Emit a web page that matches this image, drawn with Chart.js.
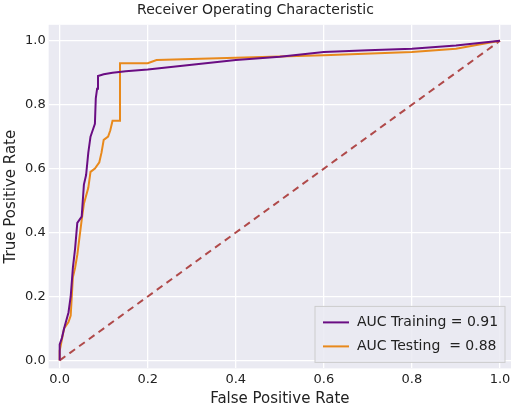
<!DOCTYPE html><html><head><script src="https://cdn.jsdelivr.net/npm/chart.js@4"></script>
<style>body{margin:0;background:#fff}#w{width:520px;height:408px}</style></head><body><div id="w"><canvas id="c"></canvas></div>
<script>
const trainFPR=[0,0,0.005,0.01,0.02,0.025,0.03,0.035,0.04,0.05,0.055,0.06,0.065,0.07,0.075,0.08,0.082,0.085,0.087,0.1,0.12,0.15,0.2,0.3,0.4,0.5,0.6,0.7,0.8,0.9,1];
const trainTPR=[0,0.05,0.07,0.1,0.15,0.2,0.29,0.35,0.43,0.45,0.55,0.58,0.65,0.7,0.72,0.74,0.82,0.85,0.89,0.895,0.9,0.905,0.91,0.925,0.94,0.95,0.965,0.97,0.975,0.985,1];
const testFPR=[0,0,0.01,0.02,0.025,0.03,0.035,0.04,0.05,0.055,0.065,0.07,0.08,0.09,0.095,0.1,0.11,0.115,0.12,0.137,0.137,0.2,0.22,0.6,0.8,0.9,1];
const testTPR=[0,0.03,0.1,0.12,0.14,0.26,0.29,0.33,0.44,0.49,0.54,0.59,0.6,0.62,0.65,0.69,0.7,0.72,0.75,0.75,0.93,0.93,0.94,0.955,0.965,0.975,1];
const labels=['AUC Training = 0.91','AUC Testing  = 0.88'];
const tickVals=[0,0.2,0.4,0.6,0.8,1.0];
const pts=(a,b)=>a.map((x,i)=>({x,y:b[i]}));
const bg={id:'bg',beforeDraw(c){const a=c.chartArea,g=c.ctx;g.save();g.fillStyle='#EAEAF2';g.fillRect(a.left,a.top,a.width,a.height);g.restore();}};
const leg={id:'leg',afterDraw(c){const a=c.chartArea,g=c.ctx;const x=a.right-196,y=a.bottom-62,w=190,h=56;g.save();g.fillStyle='rgba(234,234,242,0.85)';g.strokeStyle='#ccc';g.fillRect(x,y,w,h);g.strokeRect(x,y,w,h);g.font='14px "DejaVu Sans"';g.textBaseline='middle';
[['#6a0d83',labels[0]],['#e8891c',labels[1]]].forEach((l,i)=>{const yy=y+16+i*24;g.strokeStyle=l[0];g.lineWidth=2;g.beginPath();g.moveTo(x+8,yy);g.lineTo(x+34,yy);g.stroke();g.fillStyle='#222';g.fillText(l[1],x+42,yy);});g.restore();}};
new Chart(document.getElementById('c'),{type:'line',data:{datasets:[
{data:pts(trainFPR,trainTPR),borderColor:'#6a0d83',borderWidth:2,pointRadius:0},
{data:pts(testFPR,testTPR),borderColor:'#e8891c',borderWidth:2,pointRadius:0},
{data:[{x:0,y:0},{x:1,y:1}],borderColor:'#b04a4a',borderWidth:2,borderDash:[7,5],pointRadius:0}]},
options:{animation:false,responsive:true,maintainAspectRatio:false,layout:{padding:{right:9,top:0}},
plugins:{legend:{display:false},tooltip:{enabled:false},title:{display:true,text:'Receiver Operating Characteristic',color:'#222',font:{family:'DejaVu Sans',size:14,weight:'normal'},padding:{top:2,bottom:6}}},
scales:{x:{type:'linear',min:-0.025,max:1.025,afterBuildTicks:s=>{s.ticks=tickVals.map(v=>({value:v}))},ticks:{color:'#222',font:{family:'DejaVu Sans',size:13},callback:v=>v.toFixed(1),maxRotation:0},grid:{color:'#fff',lineWidth:1.3,drawTicks:false},border:{display:false},title:{display:true,text:'False Positive Rate',color:'#222',font:{family:'DejaVu Sans',size:15},padding:0}},
y:{type:'linear',min:-0.025,max:1.05,afterBuildTicks:s=>{s.ticks=tickVals.map(v=>({value:v}))},ticks:{color:'#222',font:{family:'DejaVu Sans',size:13},callback:v=>v.toFixed(1)},grid:{color:'#fff',lineWidth:1.3,drawTicks:false},border:{display:false},title:{display:true,text:'True Positive Rate',color:'#222',font:{family:'DejaVu Sans',size:15},padding:2}}}},
plugins:[bg,leg]});
</script></body></html>
